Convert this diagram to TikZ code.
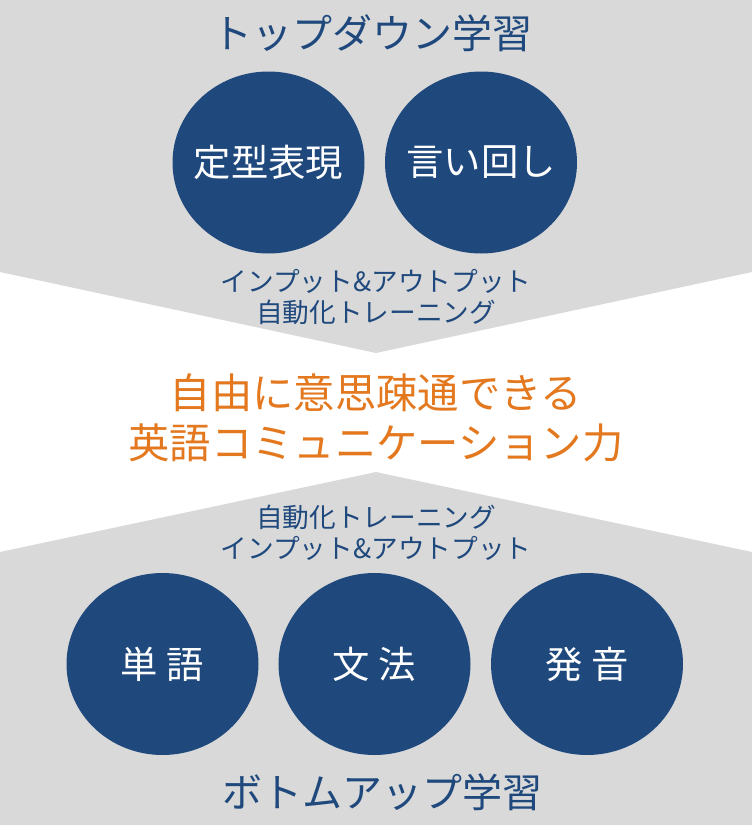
\documentclass[tikz,border=0pt]{standalone}
\usepackage{fontspec}
\setmainfont{Noto Sans CJK JP}
\usetikzlibrary{shapes.geometric}
\definecolor{panelgray}{HTML}{D9D9D9}
\definecolor{navy}{HTML}{1F497D}
\definecolor{accent}{HTML}{E3781E}
\begin{document}
\begin{tikzpicture}[x=0.75pt,y=-0.75pt,
    skill/.style={ellipse,fill=navy,inner sep=0pt,
        minimum width=144pt,minimum height=136.5pt,
        label={[skilltext]center:#1}},
    skilltext/.style={text=white,font=\fontsize{28}{34}\selectfont},
    heading/.style={text=navy,font=\fontsize{30}{36}\selectfont},
    via/.style={text=navy,align=center,font=\fontsize{20}{23.25}\selectfont},
    goal/.style={text=accent,align=center,font=\fontsize{31}{37.5}\selectfont}]
    \useasboundingbox (0,0) rectangle (752,836);
    % gray panels
    \fill[panelgray] (0,0) -- (752,0) -- (752,272) -- (376,353) -- (0,272) -- cycle;
    \fill[panelgray] (0,552) -- (376,472) -- (752,552) -- (752,825) -- (0,825) -- cycle;
    % top down
    \node[heading] (topdown) at (372,33) {トップダウン学習};
    \node[skill=定型表現] (phrase) at (268.5,162.5) {};
    \node[skill=言い回し] (wording) at (481,162.5) {};
    \node[via] (viatop) at (376,297.5) {インプット\&アウトプット\\自動化トレーニング};
    % goal
    \node[goal] (goal) at (376,417.5) {自由に意思疎通できる\\英語コミュニケーション力};
    % bottom up
    \node[via] (viabottom) at (376,533) {自動化トレーニング\\インプット\&アウトプット};
    \node[skill=単 語] (vocab) at (162.5,664) {};
    \node[skill=文 法] (grammar) at (374.5,664) {};
    \node[skill=発 音] (sound) at (587,664) {};
    \node[heading] (bottomup) at (382,792) {ボトムアップ学習};
\end{tikzpicture}
\end{document}
